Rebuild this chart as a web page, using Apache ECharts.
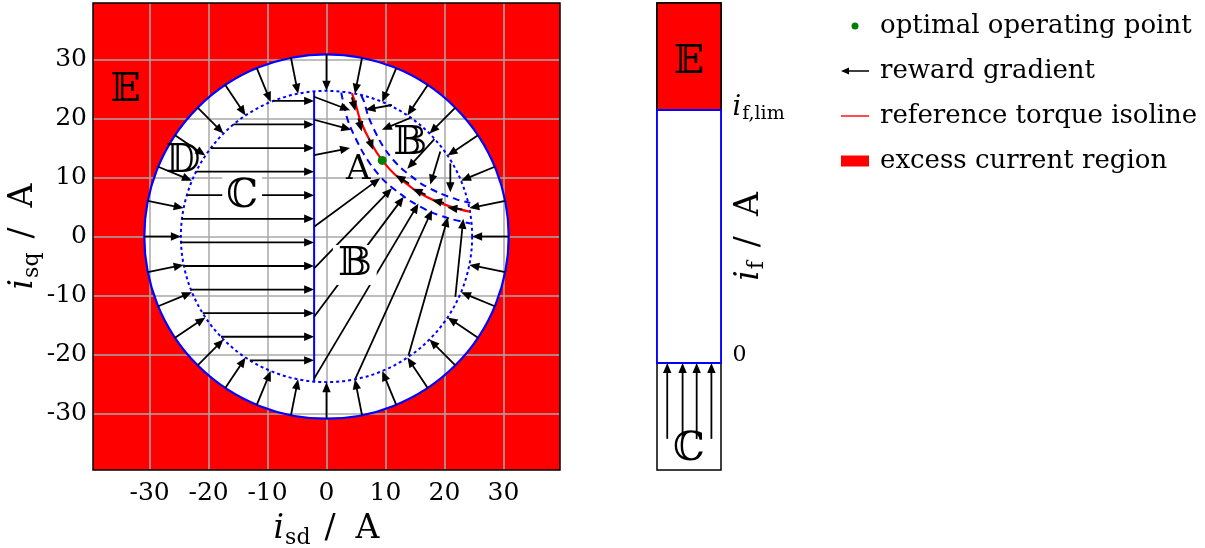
<!DOCTYPE html>
<html><head><meta charset="utf-8">
<script src="https://cdn.jsdelivr.net/npm/echarts@6/dist/echarts.min.js"></script>
<style>html,body{margin:0;padding:0;background:#fff}#c{width:1205px;height:548px}</style>
</head><body><div id="c"></div>
<script>
// ---------------- data ----------------
const xTickValues = [-30, -20, -10, 0, 10, 20, 30];
const yTickValues = [-30, -20, -10, 0, 10, 20, 30];
const plotRange = [-39.6, 39.6];
const currentLimit = 30.9;        // outer (solid) circle radius
const innerLimit = 24.7;          // inner (dotted) circle radius
const regionCBoundaryD = -2.1;    // vertical boundary of region C
const regionCBoundaryQ = [-24.6, 24.6];
const optimalPoint = [9.45, 12.9];
const isolineD = [4.3, 5.0, 5.7, 7.7, 9.45, 11.5, 13.9, 15.4, 18.5, 21.6, 24.3];
const isolineQ = [24.3, 22.3, 19.8, 15.6, 12.9, 10.6, 8.7, 7.6, 6.0, 4.9, 4.2];
const bandOuterD = [5.9, 6.4, 7.1, 9.0, 10.65, 12.55, 14.8, 16.15, 19.1, 22.05, 24.4];
const bandOuterQ = [23.9, 22.8, 20.35, 16.3, 13.8, 11.7, 9.9, 8.9, 7.4, 6.3, 5.7];
const bandInnerD = [2.5, 3.1, 3.85, 5.95, 7.85, 10.1, 12.7, 14.4, 17.7, 21.0, 24.4];
const bandInnerQ = [24.4, 21.6, 19.05, 14.65, 11.7, 9.15, 7.1, 5.9, 4.15, 3.0, 2.2];
// region D: radial arrows (angle in degrees), from outer to inner circle
const dArrowAngles = [0, 11.25, 22.5, 33.75, 45, 56.25, 67.5, 78.75, 90, 101.25, 112.5, 123.75,
  135, 146.25, 157.5, 168.75, 180, 191.25, 202.5, 213.75, 225, 236.25, 247.5, 258.75,
  270, 281.25, 292.5, 303.75, 315, 326.25, 337.5, 348.75];
// region C: horizontal arrows
const cArrowQ = [23, 19, 15, 11, 7, 3, -1, -5, -9, -13, -17, -21];
const cArrowStartD = [-9.0, -15.8, -19.6, -22.1, -23.7, -24.5, -24.7, -24.2, -23.0, -21.0, -17.9, -13.0];
// region B arrows [d0, q0, d1, q1]
const bArrows = [
  [-2.1, 1.65, 9.1, 9.9], [-2.1, -5.4, 11.1, 8.2], [-2.1, -13.6, 13.1, 6.75],
  [-2.1, -24.1, 15.6, 5.6], [4.9, -24.1, 17.9, 4.5], [13.9, -20.2, 20.6, 3.3],
  [21.85, -10.25, 23.2, 3.0], [-2.1, 23.7, 4.0, 21.4], [-2.1, 19.8, 4.2, 18.1],
  [-2.1, 13.8, 4.0, 15.0], [11.1, 22.3, 6.6, 21.5], [14.2, 20.1, 9.4, 18.1],
  [18.3, 16.5, 13.7, 11.5], [19.3, 14.4, 17.6, 8.8], [21.0, 12.4, 21.0, 7.5]
];
// region A arrows (inside the tolerance band)
const aArrows = [
  [4.3, 23.6, 4.9, 21.3], [5.4, 20.0, 6.0, 17.8], [7.2, 16.6, 7.9, 14.7],
  [14.0, 9.0, 11.7, 10.4], [16.8, 7.1, 14.6, 8.1], [19.9, 5.7, 17.9, 6.2], [23.0, 4.6, 20.5, 4.9]
];
// field current panel (normalised to i_f,lim = 1)
const fieldLimit = 1;
const fieldRange = [-0.423, 1.423];
const fieldArrowX = [0.16, 0.40, 0.62, 0.85];
const fieldArrowFrom = -0.30;
const fieldArrowTo = 0;

// ---------------- build ----------------
const FONT = "'DejaVu Serif', 'DejaVu Sans', serif";
const arrowData = [];
dArrowAngles.forEach(a => {
  const t = a * Math.PI / 180;
  arrowData.push([currentLimit * Math.cos(t), currentLimit * Math.sin(t), innerLimit * Math.cos(t), innerLimit * Math.sin(t)]);
});
cArrowQ.forEach((q, i) => arrowData.push([cArrowStartD[i], q, regionCBoundaryD, q]));
bArrows.forEach(a => arrowData.push(a));
aArrows.forEach(a => arrowData.push(a));
const fieldArrowData = fieldArrowX.map(x => [x, fieldArrowFrom, x, fieldArrowTo]);

function renderArrow(params, api) {
  const p0 = api.coord([api.value(0), api.value(1)]);
  const p1 = api.coord([api.value(2), api.value(3)]);
  const dx = p1[0] - p0[0], dy = p1[1] - p0[1];
  const len = Math.hypot(dx, dy) || 1;
  const ux = dx / len, uy = dy / len;
  const hl = 10, hw = 4.2;
  const bx = p1[0] - ux * hl, by = p1[1] - uy * hl;
  return {
    type: 'group', children: [
      { type: 'line', shape: { x1: p0[0], y1: p0[1], x2: bx + ux * 2, y2: by + uy * 2 }, style: { stroke: '#000', lineWidth: 1.8 } },
      { type: 'polygon', shape: { points: [[p1[0], p1[1]], [bx - uy * hw, by + ux * hw], [bx + uy * hw, by - ux * hw]] }, style: { fill: '#000' } }
    ]
  };
}

const nameRich = {
  i: { fontFamily: FONT, fontStyle: 'italic', fontSize: 33, lineHeight: 40, color: '#000' },
  s: { fontFamily: FONT, fontSize: 22, lineHeight: 24, padding: [16, 0, 0, 1], color: '#000' },
  sl: { fontFamily: FONT, fontSize: 33, lineHeight: 40, padding: [0, 20, 0, 14], color: '#000' },
  a: { fontFamily: FONT, fontSize: 33, lineHeight: 40, color: '#000' }
};
const hiddenSymbol = { color: 'transparent', opacity: 1 };

const chart = echarts.init(document.getElementById('c'), null, { renderer: 'canvas' });
const option = {
  animation: false,
  backgroundColor: '#fff',
  legend: {
    orient: 'vertical', left: 836, top: 6, itemWidth: 28, itemHeight: 12, itemGap: 15,
    selectedMode: false,
    textStyle: { fontFamily: FONT, fontSize: 26, lineHeight: 30, color: '#000', padding: [0, 0, 0, 6] },
    data: [
      { name: 'optimal operating point', icon: 'path://M0,0M28,12M14,2.5A3.5,3.5,0,1,1,14,9.5A3.5,3.5,0,1,1,14,2.5Z', itemStyle: { color: '#008000', borderWidth: 0, opacity: 1 } },
      { name: 'reward gradient', icon: 'path://M0,0M28,12M0,6L8,2.5L8,5.3L28,5.3L28,6.7L8,6.7L8,9.5Z', itemStyle: { color: '#000', borderWidth: 0, opacity: 1 } },
      { name: 'reference torque isoline', icon: 'path://M0,0M28,12M0,5.3L28,5.3L28,6.7L0,6.7Z', itemStyle: { color: '#ff0000', borderWidth: 0, opacity: 1 } },
      { name: 'excess current region', icon: 'path://M0,0M28,12M0,0.5L28,0.5L28,11.5L0,11.5Z', itemStyle: { color: '#ff0000', borderWidth: 0, opacity: 1 } }
    ]
  },
  grid: [
    { left: 93, top: 3, width: 467, height: 467, outerBoundsMode: 'none', containLabel: false },
    { left: 657, top: 3, width: 64, height: 467, outerBoundsMode: 'none', containLabel: false }
  ],
  xAxis: [
    {
      type: 'value', gridIndex: 0, min: plotRange[0], max: plotRange[1], z: 2,
      axisLine: { show: false },
      axisTick: { show: false, customValues: xTickValues },
      axisLabel: { customValues: xTickValues, fontFamily: FONT, fontSize: 25, color: '#000', margin: 11 },
      splitLine: { show: true, lineStyle: { color: '#a8a8a8', width: 1.5 } },
      name: '{i|i}{s|sd}{sl|/}{a|A}', nameLocation: 'middle', nameGap: 36,
      nameTextStyle: { rich: nameRich }
    },
    { type: 'value', gridIndex: 1, min: 0, max: 1, show: false }
  ],
  yAxis: [
    {
      type: 'value', gridIndex: 0, min: plotRange[0], max: plotRange[1], z: 2,
      axisLine: { show: false },
      axisTick: { show: false, customValues: yTickValues },
      axisLabel: { customValues: yTickValues, fontFamily: FONT, fontSize: 25, color: '#000', margin: 6 },
      splitLine: { show: true, lineStyle: { color: '#a8a8a8', width: 1.5 } },
      name: '{i|i}{s|sq}{sl|/}{a|A}', nameLocation: 'middle', nameGap: 47, nameRotate: 90,
      nameTextStyle: { rich: nameRich }
    },
    {
      type: 'value', gridIndex: 1, min: fieldRange[0], max: fieldRange[1], position: 'right',
      axisLine: { show: false }, axisTick: { show: false }, axisLabel: { show: false }, splitLine: { show: false },
      name: '{i|i}{s|f}{sl|/}{a|A}', nameLocation: 'middle', nameGap: 8, nameRotate: 90,
      nameTextStyle: { rich: nameRich }
    }
  ],
  series: [
    { // excess current region (red) with feasible disc (white)
      type: 'custom', name: 'excess current region', xAxisIndex: 0, yAxisIndex: 0, z: 1, silent: true,
      itemStyle: { color: '#ff0000' },
      data: [[0, 0]],
      renderItem: (params, api) => {
        const tl = api.coord([plotRange[0], plotRange[1]]);
        const br = api.coord([plotRange[1], plotRange[0]]);
        const c = api.coord([0, 0]);
        const s = api.size([currentLimit, currentLimit]);
        return {
          type: 'group', children: [
            { type: 'rect', shape: { x: tl[0], y: tl[1], width: br[0] - tl[0], height: br[1] - tl[1] }, style: { fill: '#ff0000' } },
            { type: 'circle', shape: { cx: c[0], cy: c[1], r: (s[0] + s[1]) / 2 }, style: { fill: '#ffffff' } }
          ]
        };
      }
    },
    { // circles
      type: 'custom', name: 'limits', xAxisIndex: 0, yAxisIndex: 0, z: 3, silent: true,
      data: [[0, 0]],
      renderItem: (params, api) => {
        const c = api.coord([0, 0]);
        const so = api.size([currentLimit, currentLimit]);
        const si = api.size([innerLimit, innerLimit]);
        return {
          type: 'group', children: [
            { type: 'circle', shape: { cx: c[0], cy: c[1], r: (so[0] + so[1]) / 2 }, style: { fill: null, stroke: '#0000ff', lineWidth: 2.2 } },
            { type: 'circle', shape: { cx: c[0], cy: c[1], r: (si[0] + si[1]) / 2 }, style: { fill: null, stroke: '#0000ff', lineWidth: 2, lineDash: [3, 3] } }
          ]
        };
      }
    },
    {
      type: 'line', name: 'region C boundary', xAxisIndex: 0, yAxisIndex: 0, z: 3, silent: true,
      data: [[regionCBoundaryD, regionCBoundaryQ[0]], [regionCBoundaryD, regionCBoundaryQ[1]]],
      symbol: 'none', lineStyle: { color: '#0000ff', width: 2 }
    },
    {
      type: 'line', name: 'band outer', xAxisIndex: 0, yAxisIndex: 0, z: 4, silent: true,
      data: bandOuterD.map((d, i) => [d, bandOuterQ[i]]), smooth: 0.3, symbol: 'none',
      lineStyle: { color: '#0000ff', width: 2, type: [7, 5] }
    },
    {
      type: 'line', name: 'band inner', xAxisIndex: 0, yAxisIndex: 0, z: 4, silent: true,
      data: bandInnerD.map((d, i) => [d, bandInnerQ[i]]), smooth: 0.3, symbol: 'none',
      lineStyle: { color: '#0000ff', width: 2, type: [7, 5] }
    },
    {
      type: 'line', name: 'reference torque isoline', xAxisIndex: 0, yAxisIndex: 0, z: 4, silent: true,
      data: isolineD.map((d, i) => [d, isolineQ[i]]), smooth: 0.3, symbol: 'none',
      lineStyle: { color: '#ff0000', width: 2.2 }, itemStyle: { color: '#ff0000' }
    },
    {
      type: 'custom', name: 'reward gradient', xAxisIndex: 0, yAxisIndex: 0, z: 5, silent: true,
      itemStyle: { color: '#000' },
      encode: { x: [0, 2], y: [1, 3] },
      data: arrowData, renderItem: renderArrow
    },
    {
      type: 'scatter', name: 'optimal operating point', xAxisIndex: 0, yAxisIndex: 0, z: 6, silent: true,
      data: [optimalPoint], symbolSize: 9, itemStyle: { color: '#008000', opacity: 1 }
    },
    { // region labels
      type: 'scatter', name: 'labels', xAxisIndex: 0, yAxisIndex: 0, z: 7, silent: true,
      symbolSize: 1, itemStyle: hiddenSymbol,
      label: { show: true, position: 'inside', formatter: '{b}', fontFamily: FONT, fontSize: 40, color: '#000' },
      data: [
        { name: '𝔼', value: [-34.1, 24.8] },
        { name: '𝔻', value: [-24.3, 12.7] },
        { name: 'ℂ', value: [-14.3, 6.8], label: { backgroundColor: '#fff', padding: [0, 4] } },
        { name: 'A', value: [5.4, 11.2], label: { fontSize: 34 } },
        { name: '𝔹', value: [14.2, 15.8] },
        { name: '𝔹', value: [4.8, -4.85], label: { backgroundColor: '#fff', padding: [0, 5] } }
      ]
    },
    { // main frame
      type: 'custom', name: 'frame', xAxisIndex: 0, yAxisIndex: 0, z: 8, silent: true,
      data: [[0, 0]],
      renderItem: (params, api) => {
        const tl = api.coord([plotRange[0], plotRange[1]]);
        const br = api.coord([plotRange[1], plotRange[0]]);
        return { type: 'rect', shape: { x: tl[0], y: tl[1], width: br[0] - tl[0], height: br[1] - tl[1] }, style: { fill: null, stroke: '#000', lineWidth: 1.5 } };
      }
    },
    { // field current panel
      type: 'custom', name: 'field panel', xAxisIndex: 1, yAxisIndex: 1, z: 1, silent: true,
      data: [[0, 0]],
      renderItem: (params, api) => {
        const a = api.coord([0, fieldRange[1]]);
        const b = api.coord([1, fieldRange[0]]);
        const l = api.coord([0, fieldLimit]);
        const z0 = api.coord([1, 0]);
        return {
          type: 'group', children: [
            { type: 'rect', shape: { x: a[0], y: a[1], width: b[0] - a[0], height: b[1] - a[1] }, style: { fill: '#fff', stroke: '#000', lineWidth: 1.5 } },
            { type: 'rect', shape: { x: a[0], y: a[1], width: b[0] - a[0], height: l[1] - a[1] }, style: { fill: '#ff0000', stroke: '#000', lineWidth: 1.5 } },
            { type: 'rect', shape: { x: l[0], y: l[1], width: z0[0] - l[0], height: z0[1] - l[1] }, style: { fill: '#fff', stroke: '#0000ff', lineWidth: 1.8 } }
          ]
        };
      }
    },
    {
      type: 'custom', name: 'field gradient', xAxisIndex: 1, yAxisIndex: 1, z: 5, silent: true,
      encode: { x: [0, 2], y: [1, 3] },
      data: fieldArrowData, renderItem: renderArrow
    },
    {
      type: 'scatter', name: 'field labels', xAxisIndex: 1, yAxisIndex: 1, z: 7, silent: true,
      symbolSize: 1, itemStyle: hiddenSymbol,
      label: { show: true, position: 'inside', formatter: '{b}', fontFamily: FONT, fontSize: 40, color: '#000' },
      data: [
        { name: '𝔼', value: [0.5, 1.186] },
        { name: 'ℂ', value: [0.5, -0.344] }
      ]
    },
    {
      type: 'scatter', name: 'field ticks', xAxisIndex: 1, yAxisIndex: 1, z: 7, silent: true,
      symbolSize: 1, itemStyle: hiddenSymbol,
      label: {
        show: true, position: 'right', distance: 11, formatter: '{b}', fontFamily: FONT, fontSize: 22, color: '#000',
        rich: {
          i: { fontFamily: FONT, fontStyle: 'italic', fontSize: 27, lineHeight: 32, color: '#000' },
          s: { fontFamily: FONT, fontSize: 19, lineHeight: 20, padding: [12, 0, 0, 1], color: '#000' }
        }
      },
      data: [
        { name: '0', value: [1, 0], label: { offset: [0, -8] } },
        { name: '{i|i}{s|f,lim}', value: [1, fieldLimit], label: { offset: [0, -2] } }
      ]
    }
  ]
};
chart.setOption(option);
</script>
</body></html>
